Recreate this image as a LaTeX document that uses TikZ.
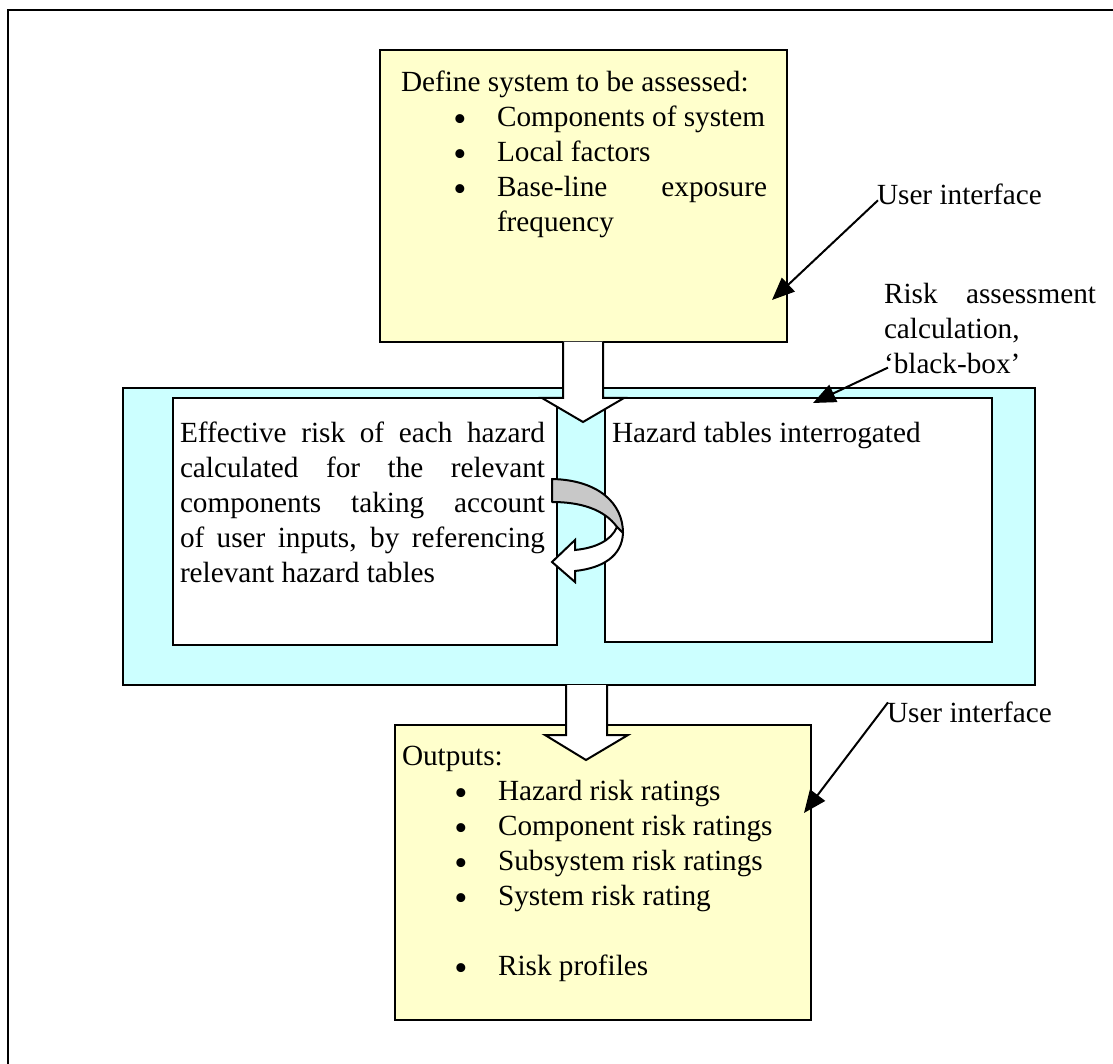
\documentclass[tikz,border=0pt]{standalone}
\usepackage{fontspec}
\setmainfont{Liberation Serif}
\usetikzlibrary{arrows.meta}
\definecolor{paleyellow}{HTML}{FFFFCC}
\definecolor{palecyan}{HTML}{CCFFFF}
\definecolor{foldgrey}{HTML}{C8C8C8}
% bullet item with hanging indent
\newcommand{\bigbullet}{\smash{\raisebox{-1.9pt}{\fontsize{15}{14}\selectfont\textbullet}}}
\newcommand{\bulletline}[1]{\hspace*{20.9pt}\makebox[17.5pt][l]{\bigbullet}#1}
\newcommand{\spreadline}[2]{\makebox[#1][s]{#2}}
\begin{document}
\begin{tikzpicture}[x=0.4pt,y=-0.4pt,
  txt/.style={inner sep=0pt, outer sep=0pt, align=left, font=\fontsize{11.7}{14}\selectfont},
  panel/.style={draw, line width=0.8pt},
  blockarrow/.style={fill=white, draw, line width=0.8pt, line join=miter},
  callout/.style={draw, line width=0.8pt, -{Triangle[length=9pt,width=7.5pt]}},
]
\useasboundingbox (0,0) rectangle (1113,1064);
% page frame
\draw[line width=1.1pt] (8,1064) -- (8,10) -- (1113,10);

% calculation stage
\draw[panel, fill=palecyan] (123,388) rectangle (1035,685);
\draw[panel, fill=white] (173,398) rectangle (557,645);
\draw[panel, fill=white] (605,398) rectangle (992,642);

% input stage
\draw[panel, fill=paleyellow] (380,50) rectangle (787,342);
% output stage
\draw[panel, fill=paleyellow] (395,725) rectangle (811,1020);

% block arrows between stages
\fill[white] (563,342) -- (563,398) -- (542,398) -- (583,422) -- (624,398) -- (603,398) -- (603,342) -- cycle;
\draw[blockarrow] (563,342) -- (563,398) -- (542,398) -- (583,422) -- (624,398) -- (603,398) -- (603,342);
\fill[white] (566,685) -- (566,735) -- (545,735) -- (586,760) -- (628,735) -- (607,735) -- (607,685) -- cycle;
\draw[blockarrow] (566,685) -- (566,735) -- (545,735) -- (586,760) -- (628,735) -- (607,735) -- (607,685);

% U-turn arrow
\filldraw[fill=foldgrey, line width=0.8pt, line join=round]
  (552,479) .. controls (598,480) and (623,503) .. (623,533)
  -- (617,527) .. controls (604,509) and (580,502) .. (552,502) -- cycle;
\filldraw[fill=white, line width=0.8pt, line join=miter]
  (617,527) .. controls (611,541) and (595,548) .. (575,550)
  -- (575,540) -- (552,562) -- (575,582) -- (575,571)
  .. controls (603,568) and (622,556) .. (623,533) -- cycle;

% texts
\node[txt, anchor=north west] (deftext) at (401,71) {Define system to be assessed:\\
  \bulletline{Components of system}\\
  \bulletline{Local factors}\\
  \bulletline{\spreadline{108pt}{Base-line exposure}}\\
  \hspace*{38.4pt}frequency};

\node[txt, anchor=north west] (efftext) at (180,422) {%
  \spreadline{146pt}{Effective risk of each hazard}\\
  \spreadline{146pt}{calculated for the relevant}\\
  \spreadline{146pt}{components taking account}\\
  \spreadline{146pt}{of user inputs, by referencing}\\
  relevant hazard tables};

\node[txt, anchor=base west] (haztext) at (612,443) {Hazard tables interrogated};

\node[txt, anchor=north west] (outtext) at (402,746) {Outputs:\\
  \bulletline{Hazard risk ratings}\\
  \bulletline{Component risk ratings}\\
  \bulletline{Subsystem risk ratings}\\
  \bulletline{System risk rating}\\[14pt]
  \bulletline{Risk profiles}};

% callouts
\node[txt, anchor=base west] (ui1) at (877,205) {User interface};
\node[txt, anchor=north west] (calc) at (884,283) {\spreadline{84.8pt}{Risk assessment}\\
  calculation,\\
  ‘black-box’};
\node[txt, anchor=base west] (ui2) at (887,722) {User interface};

\coordinate (tip1) at (772,300);
\coordinate (tip2) at (813,403);
\coordinate (tip3) at (804,813);
\draw[callout] ([shift={(1,-5)}]ui1.south west) -- (tip1);
\draw[callout] ([shift={(4,-6)}]calc.south west) -- (tip2);
\draw[callout] ([shift={(1,1)}]ui2.north west) -- (tip3);
\end{tikzpicture}
\end{document}
